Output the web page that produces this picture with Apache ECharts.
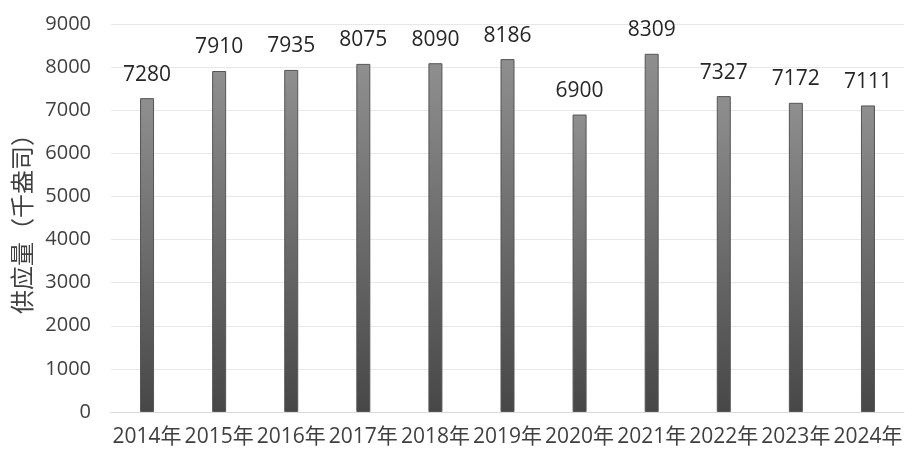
<!DOCTYPE html>
<html><head><meta charset="utf-8">
<script src="https://cdn.jsdelivr.net/npm/echarts@6/dist/echarts.min.js"></script>
<style>html,body{margin:0;padding:0;background:#fff}#c{width:913px;height:465px}</style>
</head><body><div id="c"></div>
<script>
const categories = ['2014年','2015年','2016年','2017年','2018年','2019年','2020年','2021年','2022年','2023年','2024年'];
const supply = [7280,7910,7935,8075,8090,8186,6900,8309,7327,7172,7111];
const yTicks = [0,1000,2000,3000,4000,5000,6000,7000,8000,9000];
const font = '"Open Sans", "Noto Sans CJK SC", sans-serif';
const chart = echarts.init(document.getElementById('c'));
chart.setOption({
  animation:false,
  backgroundColor:'#fff',
  grid:{left:111,right:9,top:24,bottom:53,containLabel:false},
  xAxis:{type:'category',data:categories,
    axisLine:{lineStyle:{color:'#d9d9d9'}},axisTick:{show:false},
    axisLabel:{color:'#404040',fontSize:21,fontFamily:font,margin:15,interval:0}},
  yAxis:{type:'value',min:yTicks[0],max:yTicks[yTicks.length-1],interval:1000,
    name:'供应量（千盎司）',nameLocation:'middle',nameGap:76,nameRotate:90,
    nameTextStyle:{color:'#404040',fontSize:24,fontFamily:'"Noto Sans CJK SC", sans-serif'},
    axisLine:{show:false},axisTick:{show:false},
    axisLabel:{color:'#404040',fontSize:20,fontFamily:font,margin:20,formatter:v=>String(v)},
    splitLine:{lineStyle:{color:'#e8e8e8'}}},
  series:[{type:'bar',data:supply,barWidth:14,
    itemStyle:{color:new echarts.graphic.LinearGradient(0,0,0,1,[{offset:0,color:'#8f8f8f'},{offset:1,color:'#474747'}]),
      borderColor:'#555',borderWidth:1},
    label:{show:true,position:'top',distance:13,color:'#262626',fontSize:21,fontFamily:font}}]
});
</script></body></html>
